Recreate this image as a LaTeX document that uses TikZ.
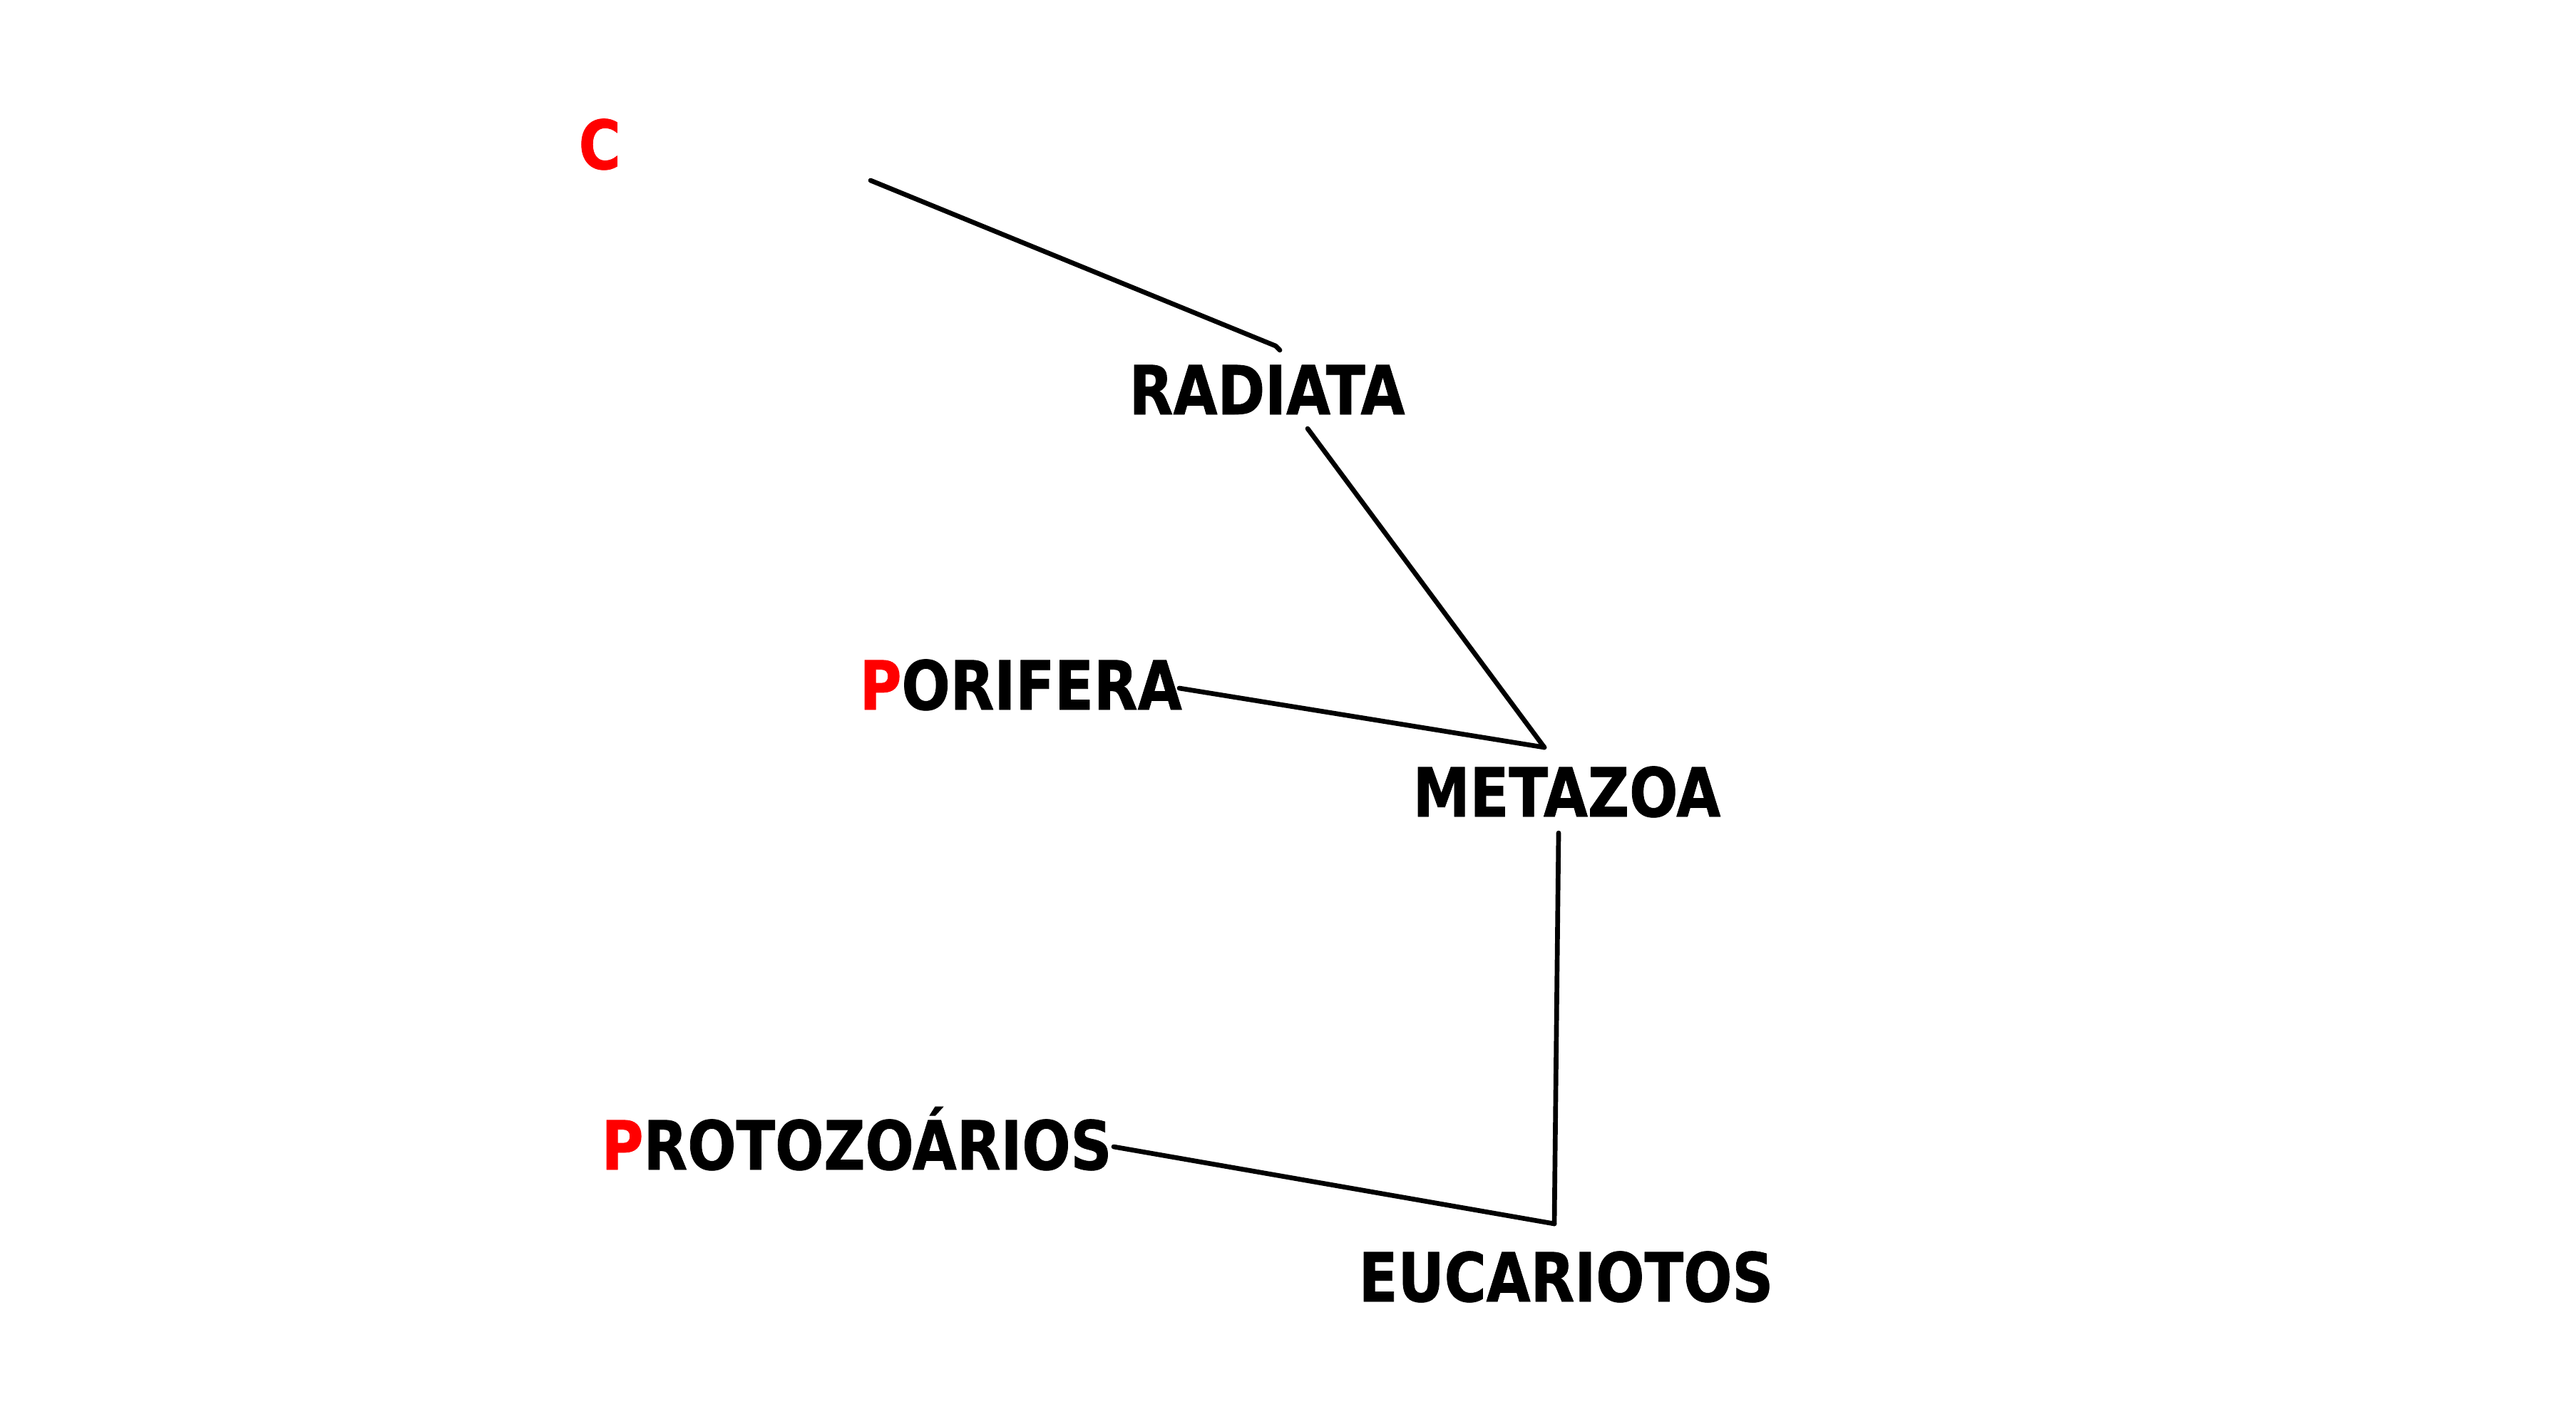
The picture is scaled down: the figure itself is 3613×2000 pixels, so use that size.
\documentclass[tikz,border=0pt]{standalone}
\usepackage{fontspec}
\usepackage{xcolor}
\usetikzlibrary{positioning}
\setmainfont{DejaVu Sans}
\newfontfamily\cladofont[FakeStretch=0.845, FakeBold=0.8]{DejaVu Sans Bold}
\definecolor{rojo}{RGB}{255,0,0}
\tikzset{
  clado/.style={inner sep=0pt, anchor=base west, text=black,
                font=\cladofont\fontsize{27}{30}\selectfont},
  rama/.style={line width=1.9pt, line cap=round, line join=round},
}

\begin{document}
\begin{tikzpicture}[x=0.01cm, y=-0.01cm]
  \useasboundingbox (0,0) rectangle (3613,2000);
  % taxa
  \node[clado, text=rojo] (C) at (811,237) {C};
  \node[clado] (radiata) at (1583,581) {RADIATA};
  \node[clado] (porifera) at (1205,995) {\textcolor{rojo}{P}ORIFERA};
  \node[clado] (metazoa) at (1981,1145) {METAZOA};
  \node[clado] (protozoarios) at (843,1640) {\textcolor{rojo}{P}ROTOZOÁRIOS};
  \node[clado] (eucariotos) at (1905,1825) {EUCARIOTOS};
  % ramas
  \coordinate (cIni) at (1221,253);
  \coordinate (cFin) at (1789,485);
  \coordinate (rIni) at (1834,601);
  \coordinate (pIni) at (1654,965);
  \coordinate (nMet) at (2166,1048);
  \coordinate (mIni) at (2186,1168);
  \coordinate (prIni) at (1562,1608);
  \coordinate (nEuc) at (2180,1716);
  \draw[rama] (cIni) -- (cFin) -- ++(6,6);
  \draw[rama] (rIni) -- (nMet); \draw[rama] (pIni) -- (nMet);
  \draw[rama] (mIni) -- (nEuc); \draw[rama] (prIni) -- (nEuc);
\end{tikzpicture}
\end{document}
